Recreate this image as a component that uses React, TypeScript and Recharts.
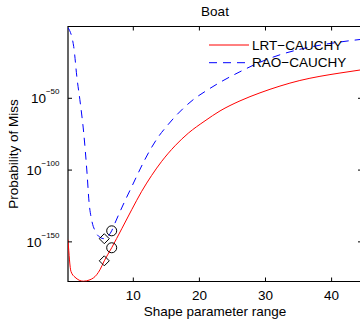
import React from 'react'
import {
    ComposedChart,
    Line,
    Scatter,
    XAxis,
    YAxis,
    ReferenceArea,
    Legend
} from 'recharts'

// layout of the plot box, in page pixels
const W = 362
const H = 319
const TOP = 26.5
const LEFT = 68
const BOTTOM = 281.5
const RIGHT = W
const FONT = '"Liberation Sans", Arial, Helvetica, sans-serif'

const xDomain = [0.12, 44.6]
const yDomain = [2.5e-178, 1]
const xTicks = [10, 20, 30, 40]
const yTicks = [1e-150, 1e-100, 1e-50]

// LRT-CAUCHY (red, solid)
const lrtX = [0.12, 0.57, 1.18, 2.44, 3.45, 4.46, 4.96, 5.61, 6.73, 8.25, 9.76, 11.27, 12.78, 14.3, 16.31, 18.32, 20.85, 23.12, 26.14, 29.17, 32.19, 35.2, 38.24, 41.27, 44.6]
const lrtP = [3.2e-149, 2.5e-171, 2.5e-175, 4.0e-178, 4.0e-177, 1.3e-173, 4.0e-170, 6.3e-164, 7.9e-155, 1.3e-141, 2.5e-128, 1.6e-115, 2.0e-104, 1.3e-94, 7.9e-84, 5.0e-75, 2.0e-66, 1.6e-59, 1.6e-52, 6.3e-47, 3.2e-42, 2.5e-38, 2.0e-35, 4.0e-33, 7.9e-31]

// RAO-CAUCHY (blue, dashed)
const raoX = [0.12, 0.98, 1.48, 1.98, 2.5, 3.0, 3.3, 3.71, 4.3, 5.01, 5.61, 6.2, 6.73, 7.23, 8.74, 9.76, 10.51, 11.77, 12.78, 13.78, 15.05, 16.3, 17.56, 19.33, 20.85, 23.12, 26.14, 29.17, 32.19, 35.2, 38.24, 41.27, 44.6]
const raoP = [1.6e-1, 1.3e-14, 1.3e-36, 5.0e-54, 6.3e-75, 7.9e-103, 7.9e-123, 1e-135, 1e-143, 1e-147, 1.6e-148, 1e-146, 5.0e-143, 1.3e-137, 4.0e-122, 2.5e-112, 5.0e-105, 3.2e-93, 7.9e-85, 1.3e-77, 3.2e-70, 1.3e-63, 1e-57, 1e-50, 5.0e-46, 1.3e-39, 3.2e-32, 1.3e-25, 2.0e-20, 1.3e-16, 1e-13, 1.6e-11, 1.3e-9]

// marked points
const diamondX = [5.61, 5.61]
const diamondP = [1.6e-148, 6.3e-164]
const circleX = [6.73, 6.73]
const circleP = [5.0e-143, 7.9e-155]

const zip = (xs: number[], ps: number[]) => xs.map((x, i) => ({ x, p: ps[i] }))

const lrtData = zip(lrtX, lrtP)
const raoData = zip(raoX, raoP)
const diamondData = zip(diamondX, diamondP)
const circleData = zip(circleX, circleP)

function XTick({ x, y, payload }: any) {
    return (
        <g>
            <line x1={x} x2={x} y1={y} y2={y - 4} stroke="#000" />
            <line x1={x} x2={x} y1={TOP} y2={TOP + 4} stroke="#000" />
            <text x={x} y={y + 18} textAnchor="middle" fontSize={13.5} fill="#000" fontFamily={FONT}>
                {payload.value}
            </text>
        </g>
    )
}

function YTick({ y, payload }: any) {
    const exp = Math.round(Math.log10(payload.value))
    return (
        <g>
            <line x1={LEFT} x2={LEFT + 4} y1={y} y2={y} stroke="#000" />
            <line x1={RIGHT} x2={RIGHT - 4} y1={y} y2={y} stroke="#000" />
            <text x={LEFT - 8.5} y={y + 5} textAnchor="end" fontSize={13.5} fill="#000" fontFamily={FONT}>
                10<tspan dy={-9} fontSize={8}>{'\u2212' + Math.abs(exp)}</tspan>
            </text>
        </g>
    )
}

const circleShape = ({ cx, cy }: any) => (
    <circle cx={cx} cy={cy} r={5} fill="none" stroke="#000" strokeWidth={1} />
)

const diamondShape = ({ cx, cy }: any) => (
    <path
        d={`M${cx},${cy - 5}L${cx + 5},${cy}L${cx},${cy + 5}L${cx - 5},${cy}Z`}
        fill="none"
        stroke="#000"
        strokeWidth={1}
    />
)

function renderLegend({ payload }: any) {
    const items = (payload || []).filter((e: any) => e.type !== 'none')
    return (
        <svg width={W} height={H} style={{ display: 'block' }} fontFamily={FONT}>
            <text x={(LEFT + RIGHT) / 2} y={16} textAnchor="middle" fontSize={13.5} fill="#000">
                Boat
            </text>
            {items.map((e: any, i: number) => (
                <g key={e.value}>
                    <line
                        x1={209}
                        x2={249}
                        y1={45 + i * 17.7}
                        y2={45 + i * 17.7}
                        stroke={e.color}
                        strokeDasharray={e.payload?.strokeDasharray}
                    />
                    <text x={252} y={50 + i * 17.3} fontSize={13.5} fill="#000">
                        {e.value}
                    </text>
                </g>
            ))}
        </svg>
    )
}

export default function App() {
    return (
        <div style={{ position: 'absolute', left: 0, top: 0, width: 360, height: H, overflow: 'hidden', background: '#fff' }}>
            <ComposedChart
                width={W}
                height={H}
                margin={{ top: TOP, right: 0, bottom: 0, left: 0 }}
                style={{ fontFamily: FONT }}
            >
                <XAxis
                    dataKey="x"
                    type="number"
                    domain={xDomain}
                    allowDataOverflow
                    ticks={xTicks}
                    interval={0}
                    height={H - BOTTOM}
                    axisLine={false}
                    tickLine={false}
                    tickSize={0}
                    tickMargin={0}
                    tick={<XTick />}
                    label={{ value: 'Shape parameter range', position: 'insideBottom', offset: 3, fill: '#000', fontSize: 13.5 }}
                />
                <YAxis
                    dataKey="p"
                    type="number"
                    scale="log"
                    domain={yDomain}
                    allowDataOverflow
                    ticks={yTicks}
                    interval={0}
                    width={LEFT}
                    axisLine={false}
                    tickLine={false}
                    tickSize={0}
                    tickMargin={0}
                    tick={<YTick />}
                    label={{
                        value: 'Probability of Miss',
                        angle: -90,
                        position: 'insideLeft',
                        offset: 13.7,
                        style: { textAnchor: 'middle' },
                        fill: '#000',
                        fontSize: 13.5
                    }}
                />
                <ReferenceArea
                    x1={xDomain[0]}
                    x2={xDomain[1]}
                    y1={yDomain[0]}
                    y2={yDomain[1]}
                    fill="none"
                    fillOpacity={0}
                    stroke="#000"
                    strokeWidth={1.2}
                />
                <Legend
                    content={renderLegend}
                    layout="horizontal"
                    verticalAlign="middle"
                    align="center"
                    wrapperStyle={{ position: 'absolute', left: 0, top: 0, width: W, height: H, pointerEvents: 'none' }}
                />
                <Line
                    data={lrtData}
                    dataKey="p"
                    name={'LRT\u2212CAUCHY'}
                    type="monotone"
                    stroke="#ff0000"
                    strokeWidth={1}
                    dot={false}
                    isAnimationActive={false}
                />
                <Line
                    data={raoData}
                    dataKey="p"
                    name={'RAO\u2212CAUCHY'}
                    type="monotone"
                    stroke="#0000ff"
                    strokeWidth={1}
                    strokeDasharray="8 6"
                    dot={false}
                    isAnimationActive={false}
                />
                <Scatter data={diamondData} dataKey="p" shape={diamondShape} legendType="none" isAnimationActive={false} />
                <Scatter data={circleData} dataKey="p" shape={circleShape} legendType="none" isAnimationActive={false} />
            </ComposedChart>
        </div>
    )
}
